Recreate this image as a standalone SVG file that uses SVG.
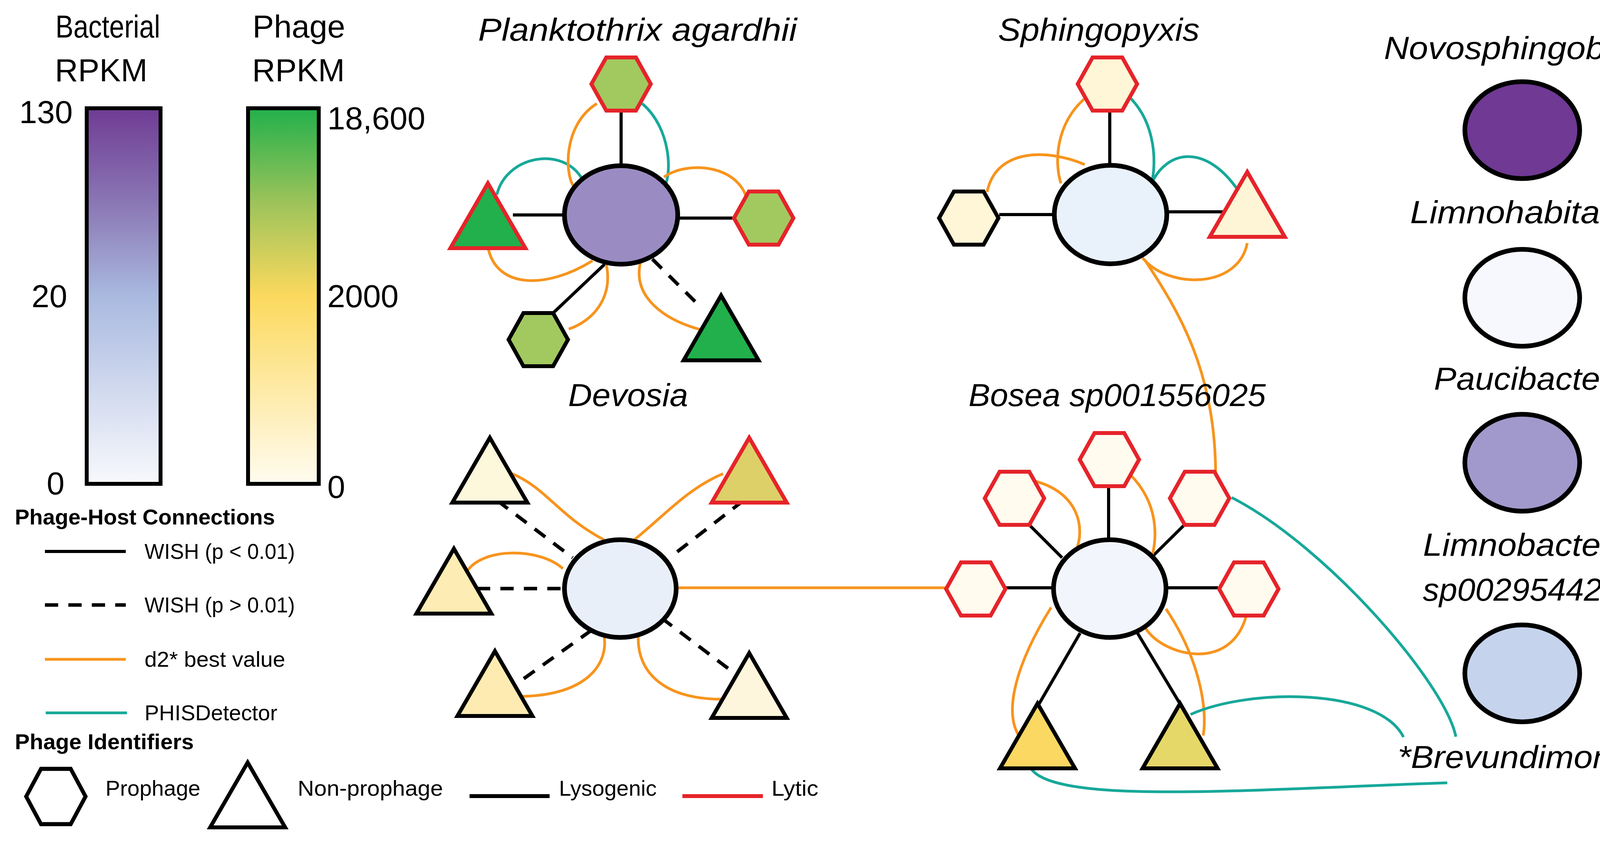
<svg xmlns="http://www.w3.org/2000/svg" xmlns:xlink="http://www.w3.org/1999/xlink" width="4295" height="2157" viewBox="0 0 4295 2157">
<style>
text{font-family:"Liberation Sans",Arial,sans-serif;fill:#000}
.t{font-size:82px}
.ti{font-size:82px;font-style:italic}
.lg{font-size:56px}
.lb{font-size:56px;font-weight:bold}
.host{stroke:#000;stroke-width:12}
.ln{stroke:#000;stroke-width:8;fill:none}
.ds{stroke:#000;stroke-width:9;fill:none;stroke-dasharray:34 26}
.or{stroke:#f7941d;stroke-width:7;fill:none}
.tl{stroke:#17a89a;stroke-width:7;fill:none}
.red{stroke:#e5242a;stroke-width:10}
.blk{stroke:#000;stroke-width:10}
</style>
<defs>
<linearGradient id="gb" x1="0" y1="0" x2="0" y2="1"><stop offset="0" stop-color="#6f3c94"/><stop offset="0.25" stop-color="#8a76b4"/><stop offset="0.5" stop-color="#a9b9df"/><stop offset="1" stop-color="#f8f9fd"/></linearGradient>
<linearGradient id="gp" x1="0" y1="0" x2="0" y2="1"><stop offset="0" stop-color="#22b04b"/><stop offset="0.25" stop-color="#9cc35a"/><stop offset="0.5" stop-color="#fcd95e"/><stop offset="1" stop-color="#fffcf0"/></linearGradient>
<polygon id="hex" points="-38,-68 38,-68 76,0 38,68 -38,68 -76,0"/>
<polygon id="tri" points="0,-166 96,0 -96,0"/>
</defs>

<g id="scales">
<text class="t" x="276" y="96" text-anchor="middle" textLength="268" lengthAdjust="spacingAndGlyphs">Bacterial</text>
<text class="t" x="259" y="208" text-anchor="middle">RPKM</text>
<text class="t" x="765" y="96" text-anchor="middle">Phage</text>
<text class="t" x="764" y="208" text-anchor="middle">RPKM</text>
<rect x="222" y="277" width="189" height="961" fill="url(#gb)" stroke="#000" stroke-width="10"/>
<rect x="635" y="277" width="181" height="961" fill="url(#gp)" stroke="#000" stroke-width="10"/>
<text class="t" x="186" y="315" text-anchor="end">130</text>
<text class="t" x="172" y="786" text-anchor="end">20</text>
<text class="t" x="165" y="1265" text-anchor="end">0</text>
<text class="t" x="838" y="331">18,600</text>
<text class="t" x="838" y="786">2000</text>
<text class="t" x="838" y="1274">0</text>
</g>

<g id="legend">
<text class="lb" x="38" y="1342" textLength="666" lengthAdjust="spacingAndGlyphs">Phage-Host Connections</text>
<line class="ln" x1="115" y1="1411" x2="322" y2="1411"/>
<text class="lg" x="370" y="1430" textLength="385" lengthAdjust="spacingAndGlyphs">WISH (p &lt; 0.01)</text>
<line class="ds" x1="115" y1="1548" x2="322" y2="1548" stroke-dasharray="40 42"/>
<text class="lg" x="370" y="1567" textLength="385" lengthAdjust="spacingAndGlyphs">WISH (p &gt; 0.01)</text>
<line class="or" x1="115" y1="1687" x2="322" y2="1687" stroke-width="10"/>
<text class="lg" x="370" y="1706" textLength="360" lengthAdjust="spacingAndGlyphs">d2* best value</text>
<line class="tl" x1="117" y1="1824" x2="325" y2="1824" stroke-width="10"/>
<text class="lg" x="370" y="1843" textLength="340" lengthAdjust="spacingAndGlyphs">PHISDetector</text>
<text class="lb" x="38" y="1917" textLength="458" lengthAdjust="spacingAndGlyphs">Phage Identifiers</text>
<use xlink:href="#hex" transform="translate(143,2038) scale(1,1.04)" fill="#fff" class="blk"/>
<text class="lg" x="270" y="2036" textLength="243" lengthAdjust="spacingAndGlyphs">Prophage</text>
<use xlink:href="#tri" transform="translate(634,2117)" fill="#fff" class="blk"/>
<text class="lg" x="762" y="2036" textLength="372" lengthAdjust="spacingAndGlyphs">Non-prophage</text>
<line x1="1202" y1="2037" x2="1407" y2="2037" stroke="#000" stroke-width="10"/>
<text class="lg" x="1431" y="2036" textLength="250" lengthAdjust="spacingAndGlyphs">Lysogenic</text>
<line x1="1747" y1="2037" x2="1953" y2="2037" stroke="#e5242a" stroke-width="10"/>
<text class="lg" x="1975" y="2036" textLength="120" lengthAdjust="spacingAndGlyphs">Lytic</text>
</g>

<g id="connectors">
<line class="ln" x1="1590" y1="284" x2="1590" y2="424"/>
<line class="ln" x1="1313" y1="550" x2="1445" y2="550" stroke-width="12"/>
<line class="ln" x1="1734" y1="558" x2="1875" y2="558" stroke-width="12"/>
<line class="ln" x1="1417" y1="800" x2="1548" y2="676"/>
<line class="ds" x1="1670" y1="663" x2="1789" y2="781"/>
<path class="tl" d="M1272,498 C1295,400 1440,370 1491,459"/>
<path class="or" d="M1528,265 C1440,320 1445,450 1471,480"/>
<path class="tl" d="M1644,265 C1720,330 1720,450 1700,478"/>
<path class="or" d="M1700,453 C1760,410 1900,420 1915,523"/>
<path class="or" d="M1249,632 C1270,740 1400,740 1517,667"/>
<path class="or" d="M1552,676 C1570,760 1520,820 1456,842"/>
<path class="or" d="M1639,673 C1620,760 1700,820 1800,845"/>
<line class="ln" x1="2841" y1="284" x2="2841" y2="423"/>
<line class="ln" x1="2558" y1="549" x2="2699" y2="549" stroke-width="12"/>
<line class="ln" x1="2990" y1="542" x2="3132" y2="542" stroke-width="12"/>
<path class="or" d="M2527,491 C2550,380 2680,380 2777,421"/>
<path class="or" d="M2777,252 C2700,320 2700,420 2716,469"/>
<path class="tl" d="M2895,252 C2960,320 2960,420 2948,469"/>
<path class="tl" d="M2948,469 C2990,380 3090,370 3170,488"/>
<path class="or" d="M2925,660 C2990,740 3170,740 3193,622"/>
<path class="or" d="M2930,664 C3020,800 3110,950 3112,1208"/>
<line class="ds" x1="1273" y1="1281" x2="1466" y2="1427"/>
<line class="ds" x1="1903" y1="1281" x2="1714" y2="1427"/>
<line class="ds" x1="1221" y1="1506" x2="1445" y2="1506"/>
<line class="ds" x1="1515" y1="1612" x2="1315" y2="1755"/>
<line class="ds" x1="1693" y1="1581" x2="1882" y2="1724"/>
<path class="or" d="M1311,1212 C1400,1250 1430,1320 1546,1381"/>
<path class="or" d="M1851,1212 C1760,1250 1700,1320 1624,1381"/>
<path class="or" d="M1193,1466 C1230,1400 1380,1400 1441,1455"/>
<path class="or" d="M1546,1624 C1560,1700 1500,1780 1332,1782"/>
<path class="or" d="M1634,1627 C1630,1720 1700,1790 1851,1789"/>
<line class="or" x1="1731" y1="1504" x2="2425" y2="1504" stroke-width="10"/>
<line class="ln" x1="2838" y1="1245" x2="2838" y2="1381"/>
<line class="ln" x1="2635" y1="1343" x2="2719" y2="1427"/>
<line class="ln" x1="3032" y1="1343" x2="2950" y2="1424"/>
<line class="ln" x1="2572" y1="1504" x2="2698" y2="1504" stroke-width="12"/>
<line class="ln" x1="2985" y1="1504" x2="3118" y2="1504" stroke-width="12"/>
<line class="ln" x1="2765" y1="1620" x2="2660" y2="1801"/>
<line class="ln" x1="2912" y1="1620" x2="3021" y2="1801"/>
<path class="or" d="M2649,1231 C2760,1260 2780,1350 2754,1410"/>
<path class="or" d="M2891,1212 C2970,1290 2960,1380 2950,1420"/>
<path class="or" d="M2691,1554 C2600,1700 2570,1820 2608,1882"/>
<path class="or" d="M2985,1558 C3080,1700 3090,1830 3080,1882"/>
<path class="or" d="M2933,1608 C2980,1680 3150,1720 3190,1577"/>
<path class="tl" d="M3153,1273 C3400,1400 3700,1750 3727,1885"/>
<path class="tl" d="M3048,1828 C3200,1760 3530,1760 3593,1886"/>
<path class="tl" d="M2639,1966 C2700,2060 3200,2020 3705,2003"/>
</g>

<g id="planktothrix">
<text class="ti" x="1632" y="104" text-anchor="middle" textLength="816" lengthAdjust="spacingAndGlyphs">Planktothrix agardhii</text>
<ellipse class="host" cx="1590" cy="550" rx="145" ry="126" fill="#9a8cc2"/>
<use xlink:href="#hex" transform="translate(1590,215)" fill="#a2c95f" class="red"/>
<use xlink:href="#hex" transform="translate(1955,558)" fill="#a2c95f" class="red"/>
<use xlink:href="#hex" transform="translate(1378,869)" fill="#a2c95f" class="blk"/>
<use xlink:href="#tri" transform="translate(1249,635)" fill="#21b04b" class="red"/>
<use xlink:href="#tri" transform="translate(1846,922)" fill="#21b04b" class="blk"/>
</g>

<g id="sphingopyxis">
<text class="ti" x="2813" y="104" text-anchor="middle" textLength="516" lengthAdjust="spacingAndGlyphs">Sphingopyxis</text>
<ellipse class="host" cx="2843" cy="549" rx="144" ry="126" fill="#e9f1fa"/>
<use xlink:href="#hex" transform="translate(2835,215)" fill="#fef6d6" class="red"/>
<use xlink:href="#hex" transform="translate(2480,558)" fill="#fef6d6" class="blk"/>
<use xlink:href="#tri" transform="translate(3193,606)" fill="#fef5d6" class="red"/>
</g>

<g id="devosia">
<text class="ti" x="1608" y="1039" text-anchor="middle" textLength="307" lengthAdjust="spacingAndGlyphs">Devosia</text>
<ellipse class="host" cx="1588" cy="1506" rx="143" ry="125" fill="#e9eff9"/>
<use xlink:href="#tri" transform="translate(1254,1286)" fill="#fdf7dc" class="blk"/>
<use xlink:href="#tri" transform="translate(1918,1286)" fill="#ddd068" class="red"/>
<use xlink:href="#tri" transform="translate(1162,1570)" fill="#fdecb3" class="blk"/>
<use xlink:href="#tri" transform="translate(1267,1832)" fill="#fdebb1" class="blk"/>
<use xlink:href="#tri" transform="translate(1918,1837)" fill="#fdf6dc" class="blk"/>
</g>

<g id="bosea">
<text class="ti" x="2860" y="1039" text-anchor="middle" textLength="761" lengthAdjust="spacingAndGlyphs">Bosea sp001556025</text>
<ellipse class="host" cx="2841" cy="1506" rx="144" ry="125" fill="#f2f6fc"/>
<use xlink:href="#hex" transform="translate(2840,1176)" fill="#fffbee" class="red"/>
<use xlink:href="#hex" transform="translate(2597,1275)" fill="#fffbee" class="red"/>
<use xlink:href="#hex" transform="translate(3071,1275)" fill="#fffbee" class="red"/>
<use xlink:href="#hex" transform="translate(2498,1507)" fill="#fffbee" class="red"/>
<use xlink:href="#hex" transform="translate(3197,1507)" fill="#fffbee" class="red"/>
<use xlink:href="#tri" transform="translate(2656,1966)" fill="#fad862" class="blk"/>
<use xlink:href="#tri" transform="translate(3021,1966)" fill="#e5d869" class="blk"/>
</g>

<g id="brevundimonas">
<text class="ti" x="3898" y="1965" text-anchor="middle" textLength="640" lengthAdjust="spacingAndGlyphs">*Brevundimonas</text>
</g>

<g id="host-legend">
<text class="ti" x="3897" y="151" text-anchor="middle" textLength="708" lengthAdjust="spacingAndGlyphs">Novosphingobium</text>
<ellipse class="host" cx="3897" cy="333" rx="147" ry="124" fill="#6f3994"/>
<text class="ti" x="3900" y="571" text-anchor="middle" textLength="580" lengthAdjust="spacingAndGlyphs">Limnohabitans</text>
<ellipse class="host" cx="3897" cy="762" rx="147" ry="124" fill="#f6f8fd"/>
<text class="ti" x="3898" y="997" text-anchor="middle" textLength="454" lengthAdjust="spacingAndGlyphs">Paucibacter</text>
<ellipse class="host" cx="3897" cy="1184" rx="147" ry="124" fill="#a199cb"/>
<text class="ti" x="3885" y="1422" text-anchor="middle" textLength="484" lengthAdjust="spacingAndGlyphs">Limnobacter</text>
<text class="ti" x="3895" y="1537" text-anchor="middle" textLength="505" lengthAdjust="spacingAndGlyphs">sp002954425</text>
<ellipse class="host" cx="3897" cy="1723" rx="147" ry="124" fill="#c5d3ec"/>
</g>
</svg>
